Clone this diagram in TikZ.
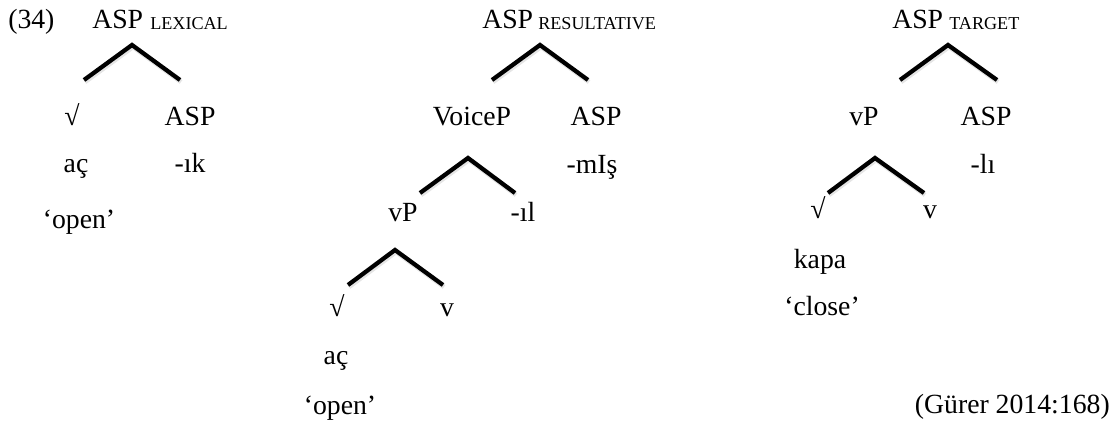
\documentclass[tikz,border=0pt]{standalone}
\usepackage{fontspec}
\setmainfont{Liberation Serif}
\newfontfamily\timesfam{Liberation Serif}
\begin{document}
\begin{tikzpicture}[x=0.75pt,y=-0.75pt,
  lbl/.style={inner sep=0pt,anchor=base,font=\timesfam\fontsize{20.8}{25}\selectfont},
  lblw/.style={lbl,anchor=base west},
  lble/.style={lbl,anchor=base east},
  subtag/.style={inner sep=0pt,anchor=base west,font=\timesfam\fontsize{13.6}{16}\selectfont},
  branch/.style={line width=3.2pt},
  bshadow/.style={line width=3.4pt,draw=black!10}]
\useasboundingbox (0,0) rectangle (1120,421);

% ---------- Tree 1 ----------
\node[lblw] (ex) at (8,28) {(34)};
\node[lblw] (t1root) at (92,28) {ASP};
\node[subtag] (t1sub) at (150,29) {LEXICAL};
\coordinate (t1a) at (132,45);
\coordinate (t1l) at (84,80);
\coordinate (t1r) at (180,80);
\node[lbl] (t1root2) at (72,125) {√};
\node[lbl] (t1asp) at (190,125) {ASP};
\node[lbl] (t1ac) at (76,172) {aç};
\node[lbl] (t1ik) at (190,172) {-ık};
\node[lbl] (t1open) at (79,228) {‘open’};

% ---------- Tree 2 ----------
\node[lblw] (t2root) at (482,28) {ASP};
\node[subtag] (t2sub) at (538,29) {RESULTATIVE};
\coordinate (t2a) at (540,45);
\coordinate (t2l) at (492,80);
\coordinate (t2r) at (588,80);
\node[lbl] (t2voice) at (472,125) {VoiceP};
\node[lbl] (t2asp) at (596,125) {ASP};
\node[lbl] (t2mis) at (592,173) {-mIş};
\coordinate (t2b) at (468,158);
\coordinate (t2bl) at (420,193);
\coordinate (t2br) at (515,193);
\node[lbl] (t2vp) at (403,221) {vP};
\node[lbl] (t2il) at (523,221) {-ıl};
\coordinate (t2c) at (395,250);
\coordinate (t2cl) at (348,285);
\coordinate (t2cr) at (443,285);
\node[lbl] (t2sq) at (337,316) {√};
\node[lbl] (t2v) at (447,316) {v};
\node[lbl] (t2ac) at (336,364) {aç};
\node[lbl] (t2open) at (340,414) {‘open’};

% ---------- Tree 3 ----------
\node[lblw] (t3root) at (892,28) {ASP};
\node[subtag] (t3sub) at (949,29) {TARGET};
\coordinate (t3a) at (948,45);
\coordinate (t3l) at (900,80);
\coordinate (t3r) at (997,80);
\node[lbl] (t3vp) at (864,125) {vP};
\node[lbl] (t3asp) at (986,125) {ASP};
\node[lbl] (t3li) at (983,173) {-lı};
\coordinate (t3b) at (875,158);
\coordinate (t3bl) at (828,193);
\coordinate (t3br) at (924,193);
\node[lbl] (t3sq) at (818,218) {√};
\node[lbl] (t3v) at (930,218) {v};
\node[lbl] (t3kapa) at (820,268) {kapa};
\node[lbl] (t3close) at (822,315) {‘close’};
\node[lble] (src) at (1110,413) {(Gürer 2014:168)};

% ---------- branches ----------
\foreach \a/\l/\r in {t1a/t1l/t1r, t2a/t2l/t2r, t2b/t2bl/t2br, t2c/t2cl/t2cr, t3a/t3l/t3r, t3b/t3bl/t3br}{
  \draw[bshadow] ([shift={(1,2)}]\l) -- ([shift={(1,2)}]\a) -- ([shift={(1,2)}]\r);
  \draw[branch] (\l) -- (\a) -- (\r);
}
\end{tikzpicture}
\end{document}
